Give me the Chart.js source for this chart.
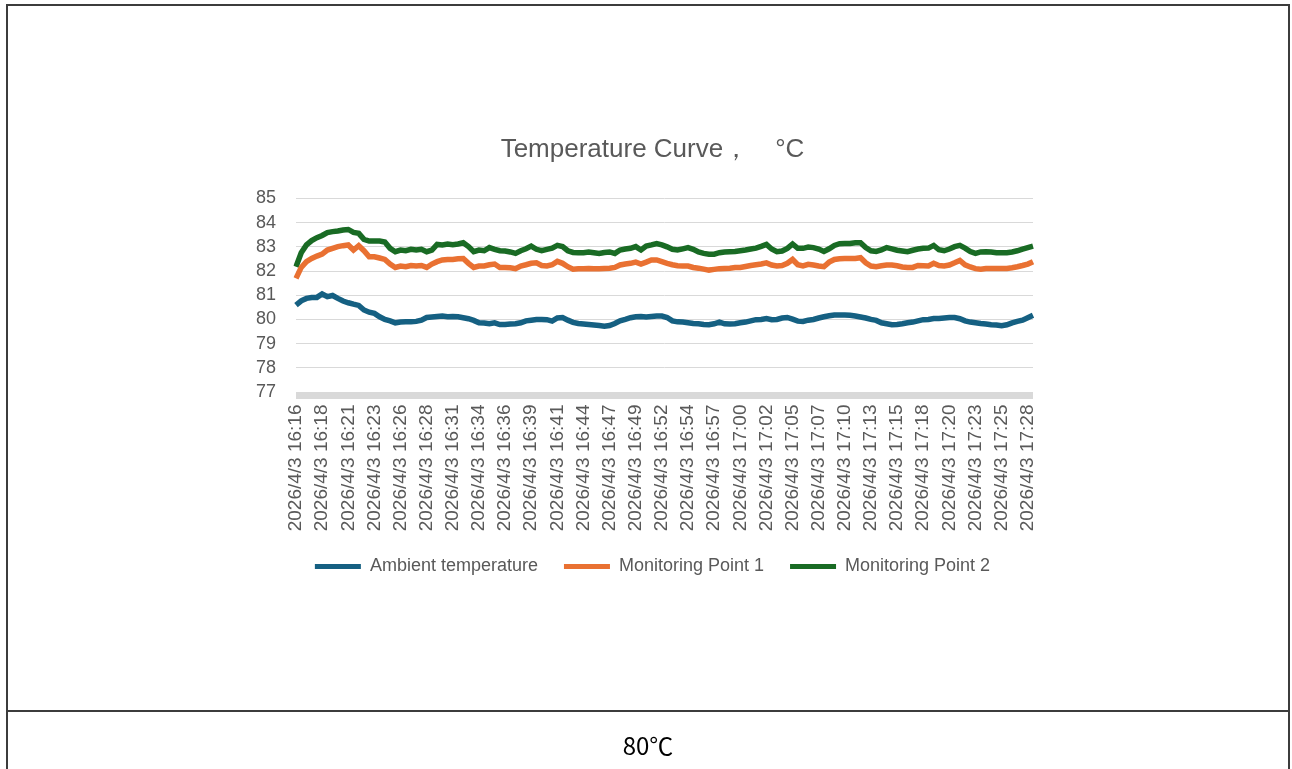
<!DOCTYPE html>
<html>
<head>
<meta charset="utf-8">
<script src="https://cdn.jsdelivr.net/npm/chart.js@4.4.1/dist/chart.umd.min.js"></script>
<style>
  html, body { margin: 0; padding: 0; background: #fff; }
  body { width: 1292px; height: 769px; position: relative; overflow: hidden; }
  #chartBox { position: absolute; left: 0; top: 0; width: 1292px; height: 711px; }
  .frame { position: absolute; left: 6px; top: 4px; width: 1284px; height: 800px;
           border: 2px solid #3c3c3c; box-sizing: border-box; pointer-events: none; }
  .rowLine { position: absolute; left: 6px; top: 710px; width: 1284px; height: 2px; background: #3c3c3c; }
  .cellText { position: absolute; left: 6px; width: 1284px; top: 727px; text-align: center;
              font-family: "Noto Sans CJK SC", "DejaVu Sans", sans-serif; font-size: 24px; color: #000; }
</style>
</head>
<body>
<div id="chartBox"><canvas id="tempChart" width="1292" height="711"></canvas></div>
<div class="frame"></div>
<div class="rowLine"></div>
<div class="cellText">80℃</div>

<script>
// 軸ラベル（29個、5点ごとに表示）
const tickLabels = [
  '2026/4/3 16:16', '2026/4/3 16:18', '2026/4/3 16:21', '2026/4/3 16:23', '2026/4/3 16:26',
  '2026/4/3 16:28', '2026/4/3 16:31', '2026/4/3 16:34', '2026/4/3 16:36', '2026/4/3 16:39',
  '2026/4/3 16:41', '2026/4/3 16:44', '2026/4/3 16:47', '2026/4/3 16:49', '2026/4/3 16:52',
  '2026/4/3 16:54', '2026/4/3 16:57', '2026/4/3 17:00', '2026/4/3 17:02', '2026/4/3 17:05',
  '2026/4/3 17:07', '2026/4/3 17:10', '2026/4/3 17:13', '2026/4/3 17:15', '2026/4/3 17:18',
  '2026/4/3 17:20', '2026/4/3 17:23', '2026/4/3 17:25', '2026/4/3 17:28'
];
const pointsPerLabel = 5;

const seriesNames = ['Ambient temperature', 'Monitoring Point 1', 'Monitoring Point 2'];
const seriesColors = ['#156082', '#E97132', '#196B24'];

const yTicks = [77, 78, 79, 80, 81, 82, 83, 84, 85];

// 読み取り値（142点）
const ambient = [
  80.59, 80.77, 80.87, 80.91, 80.91, 81.05, 80.94, 80.99, 80.87, 80.76,
  80.69, 80.63, 80.58, 80.39, 80.30, 80.25, 80.11, 80.00, 79.94, 79.86,
  79.89, 79.90, 79.90, 79.92, 79.97, 80.08, 80.10, 80.12, 80.14, 80.11,
  80.12, 80.11, 80.07, 80.03, 79.96, 79.86, 79.85, 79.82, 79.86, 79.79,
  79.79, 79.81, 79.82, 79.86, 79.94, 79.97, 80.00, 80.00, 79.99, 79.93,
  80.06, 80.08, 79.97, 79.88, 79.83, 79.81, 79.79, 79.77, 79.75, 79.72,
  79.75, 79.83, 79.94, 80.00, 80.07, 80.11, 80.12, 80.10, 80.12, 80.14,
  80.14, 80.08, 79.94, 79.90, 79.89, 79.86, 79.83, 79.82, 79.79, 79.78,
  79.82, 79.89, 79.82, 79.81, 79.82, 79.86, 79.89, 79.94, 79.99, 80.00,
  80.04, 79.99, 80.00, 80.06, 80.08, 80.01, 79.93, 79.92, 79.97, 80.00,
  80.06, 80.11, 80.15, 80.18, 80.18, 80.18, 80.17, 80.14, 80.10, 80.06,
  80.00, 79.96, 79.86, 79.82, 79.78, 79.79, 79.82, 79.86, 79.89, 79.94,
  79.99, 80.00, 80.04, 80.04, 80.06, 80.08, 80.08, 80.03, 79.94, 79.89,
  79.86, 79.83, 79.81, 79.78, 79.77, 79.74, 79.78, 79.86, 79.92, 79.97,
  80.07, 80.17
];
const point1 = [
  81.70, 82.15, 82.39, 82.52, 82.62, 82.70, 82.87, 82.94, 83.01, 83.05,
  83.08, 82.87, 83.05, 82.84, 82.59, 82.59, 82.54, 82.48, 82.29, 82.15,
  82.21, 82.18, 82.23, 82.21, 82.23, 82.15, 82.29, 82.39, 82.46, 82.48,
  82.48, 82.51, 82.52, 82.32, 82.15, 82.21, 82.21, 82.26, 82.29, 82.15,
  82.15, 82.14, 82.10, 82.21, 82.26, 82.32, 82.34, 82.23, 82.21, 82.26,
  82.40, 82.32, 82.18, 82.08, 82.10, 82.10, 82.11, 82.10, 82.10, 82.11,
  82.12, 82.15, 82.25, 82.29, 82.32, 82.37, 82.29, 82.37, 82.46, 82.46,
  82.39, 82.32, 82.26, 82.22, 82.21, 82.21, 82.15, 82.12, 82.08, 82.04,
  82.07, 82.10, 82.11, 82.12, 82.15, 82.15, 82.19, 82.23, 82.26, 82.29,
  82.34, 82.25, 82.21, 82.23, 82.32, 82.48, 82.26, 82.21, 82.28, 82.25,
  82.21, 82.18, 82.37, 82.48, 82.51, 82.52, 82.52, 82.52, 82.55, 82.34,
  82.21, 82.18, 82.22, 82.25, 82.25, 82.22, 82.17, 82.15, 82.15, 82.23,
  82.22, 82.21, 82.32, 82.23, 82.21, 82.25, 82.34, 82.44, 82.26, 82.17,
  82.10, 82.08, 82.11, 82.11, 82.11, 82.11, 82.11, 82.14, 82.18, 82.23,
  82.29, 82.39
];
const point2 = [
  82.18, 82.76, 83.08, 83.26, 83.38, 83.47, 83.59, 83.63, 83.66, 83.70,
  83.72, 83.60, 83.56, 83.31, 83.24, 83.24, 83.24, 83.20, 82.94, 82.80,
  82.87, 82.84, 82.90, 82.87, 82.90, 82.80, 82.87, 83.10, 83.08, 83.12,
  83.09, 83.12, 83.17, 83.01, 82.80, 82.87, 82.84, 82.97, 82.90, 82.84,
  82.83, 82.79, 82.73, 82.84, 82.92, 83.03, 82.90, 82.84, 82.90, 82.95,
  83.06, 83.01, 82.84, 82.77, 82.76, 82.76, 82.79, 82.76, 82.73, 82.77,
  82.79, 82.73, 82.87, 82.91, 82.94, 83.01, 82.87, 83.03, 83.08, 83.14,
  83.08, 83.00, 82.90, 82.87, 82.92, 82.97, 82.90, 82.79, 82.73, 82.70,
  82.70, 82.76, 82.79, 82.80, 82.81, 82.84, 82.87, 82.91, 82.95, 83.02,
  83.10, 82.91, 82.80, 82.83, 82.94, 83.12, 82.94, 82.94, 82.99, 82.97,
  82.91, 82.81, 82.92, 83.06, 83.13, 83.14, 83.14, 83.17, 83.17, 82.97,
  82.84, 82.81, 82.87, 82.97, 82.92, 82.86, 82.83, 82.80, 82.86, 82.91,
  82.94, 82.95, 83.06, 82.88, 82.84, 82.91, 83.01, 83.06, 82.95, 82.81,
  82.73, 82.79, 82.80, 82.79, 82.76, 82.76, 82.76, 82.79, 82.84, 82.91,
  82.97, 83.03
];

// カテゴリ（ラベルは5点ごと）
const categories = ambient.map((_, i) => (i % pointsPerLabel === 0 && tickLabels[i / pointsPerLabel]) ? tickLabels[i / pointsPerLabel] : '');

const textColor = '#595959';
const gridColor = '#d9d9d9';

// 横軸の太い灰色バー
const axisBarPlugin = {
  id: 'axisBar',
  beforeDatasetsDraw(chart) {
    const { ctx, chartArea } = chart;
    ctx.save();
    ctx.fillStyle = gridColor;
    ctx.fillRect(chartArea.left, chartArea.bottom, chartArea.right - chartArea.left, 7);
    ctx.restore();
  }
};

function initChart() {
  Chart.defaults.font.family = '"Liberation Sans", Arial, sans-serif';
  Chart.defaults.color = textColor;

  const seriesData = [ambient, point1, point2];
  const datasets = seriesData.map((d, k) => ({
    label: seriesNames[k],
    data: d,
    borderColor: seriesColors[k],
    backgroundColor: seriesColors[k],
    borderWidth: 5.5,
    pointRadius: 0,
    tension: 0,
    fill: false
  }));

  new Chart(document.getElementById('tempChart'), {
    type: 'line',
    data: { labels: categories, datasets: datasets },
    options: {
      responsive: false,
      animation: false,
      layout: { padding: { left: 256, right: 243, top: 0, bottom: 125.5 } },
      plugins: {
        title: {
          display: true,
          text: 'Temperature Curve，\u3000°C',
          color: textColor,
          font: { size: 26, weight: 'normal' },
          padding: { top: 134.4, bottom: 32.9 }
        },
        legend: {
          position: 'bottom',
          labels: {
            boxWidth: 46,
            boxHeight: 5,
            padding: 26,
            font: { size: 18 },
            color: textColor,
            generateLabels(chart) {
              return Chart.defaults.plugins.legend.labels.generateLabels(chart).map(l => {
                l.lineWidth = 0;
                l.fillStyle = seriesColors[l.datasetIndex];
                return l;
              });
            }
          }
        },
        tooltip: { enabled: false }
      },
      scales: {
        x: {
          grid: { display: false, drawTicks: false },
          border: { display: false },
          ticks: {
            autoSkip: false,
            maxRotation: 90,
            minRotation: 90,
            padding: 12.5,
            font: { size: 19 },
            color: textColor,
            callback: (v, i) => categories[i]
          },
          afterFit: (scale) => { scale.height = 139.5; }
        },
        y: {
          min: 77,
          max: 85,
          afterBuildTicks: (scale) => { scale.ticks = yTicks.map(v => ({ value: v })); },
          grid: { color: gridColor, lineWidth: 1, drawTicks: false },
          border: { display: false },
          ticks: { autoSkip: false, padding: 20, font: { size: 18 }, color: textColor },
          afterFit: (scale) => { scale.width = 40; }
        },
        // 右側の空白（タイトルと凡例の中心合わせ用）
        ySpace: {
          position: 'right',
          min: 77,
          max: 85,
          grid: { display: false, drawTicks: false },
          border: { display: false },
          ticks: { display: false },
          afterFit: (scale) => { scale.width = 16; }
        }
      }
    },
    plugins: [axisBarPlugin]
  });
}

document.addEventListener('DOMContentLoaded', initChart);
</script>
</body>
</html>
